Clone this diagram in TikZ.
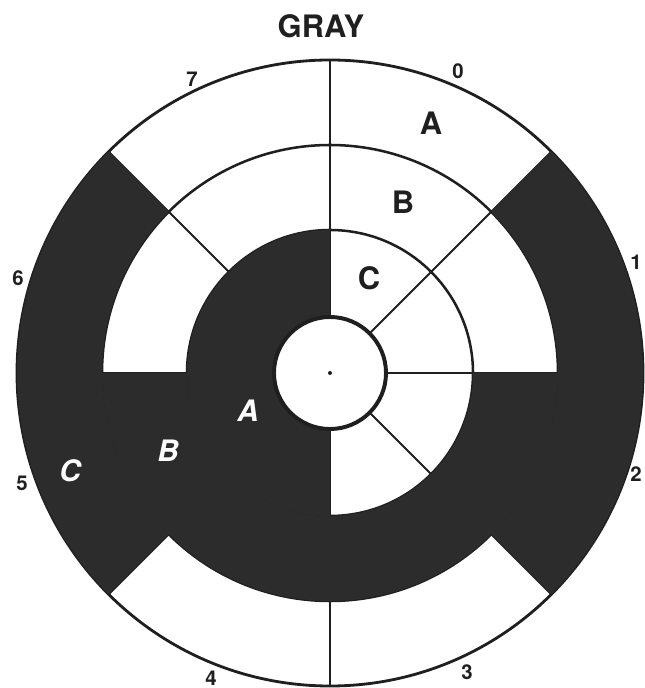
\documentclass[tikz,border=0pt]{standalone}
\usepackage{fontspec}
\setmainfont{TeX Gyre Heros}
\definecolor{ink}{HTML}{1F1F1F}
\definecolor{track}{HTML}{2C2C2C}

\begin{document}
\begin{tikzpicture}[
x=0.025cm, y=0.025cm,
rim/.style={draw=ink, line width=1.8pt},
spoke/.style={draw=ink, line width=1.3pt},
hub/.style={draw=ink, line width=2.8pt, fill=white},
sector/.style={fill=track},
title/.style={font=\bfseries\fontsize{22}{26}\selectfont, text=ink},
num/.style={font=\bfseries\fontsize{14.5}{17}\selectfont, text=ink},
trk/.style={font=\bfseries\fontsize{22}{26}\selectfont, text=ink},
key/.style={font=\bfseries\itshape\fontsize{21}{25}\selectfont, text=white}
]
\useasboundingbox (-330,-315) rectangle (314,373);

% rings and spokes
\draw[rim, line width=2pt] (0,0) circle[radius=313];
\draw[rim] (0,0) circle[radius=228];
\draw[rim] (0,0) circle[radius=143];
\foreach \a in {0,45,...,315}
  \draw[spoke] (\a:56) -- (\a:313);

% dark parts of the three tracks
\fill[sector] (45:228) arc[start angle=45, end angle=-45, radius=228]
  -- (-45:313) arc[start angle=-45, end angle=45, radius=313] -- cycle;
\fill[sector] (135:228) arc[start angle=135, end angle=225, radius=228]
  -- (225:313) arc[start angle=225, end angle=135, radius=313] -- cycle;
\fill[sector] (180:143) arc[start angle=180, end angle=360, radius=143]
  -- (0:228) arc[start angle=360, end angle=180, radius=228] -- cycle;
\fill[sector] (90:56) arc[start angle=90, end angle=270, radius=56]
  -- (270:143) arc[start angle=270, end angle=90, radius=143] -- cycle;

% hub
\draw[hub] (0,0) circle[radius=56];
\fill[ink] (0,0) circle[radius=2];

% labels
\node[title] (title) at (-9,347) {GRAY};
\node[num] (n0) at (128,302) {0};
\node[num] (n1) at (306,111) {1};
\node[num] (n2) at (306,-101) {2};
\node[num] (n3) at (137,-299) {3};
\node[num] (n4) at (-119,-305) {4};
\node[num] (n5) at (-308,-110) {5};
\node[num] (n6) at (-312,95) {6};
\node[num] (n7) at (-138,294) {7};

\node[trk] (tA) at (101,250) {A};
\node[trk] (tB) at (73,171) {B};
\node[trk] (tC) at (39,95) {C};
\node[key] (kA) at (-82,-38) {A};
\node[key] (kB) at (-162,-78) {B};
\node[key] (kC) at (-260,-98) {C};
\end{tikzpicture}
\end{document}
